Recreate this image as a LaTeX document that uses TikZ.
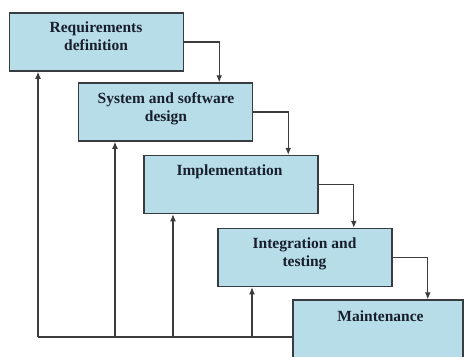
\documentclass[tikz,border=0pt]{standalone}
\usepackage{fontspec}
\setmainfont{Liberation Serif}
\usetikzlibrary{arrows.meta}
\pgfdeclarelayer{edgelayer}
\pgfdeclarelayer{nodelayer}
\pgfsetlayers{edgelayer,nodelayer,main}
\definecolor{phasefill}{RGB}{182,221,232}
\definecolor{phaseedge}{RGB}{55,60,65}
\definecolor{captionink}{RGB}{25,30,45}
\definecolor{wireink}{RGB}{60,60,60}
\tikzstyle{none}=[inner sep=0pt]
\tikzstyle{phase}=[rectangle,fill=phasefill,draw=phaseedge,line width=1.5pt,minimum width=174pt,minimum height=58pt,inner sep=0pt]
\tikzstyle{caption}=[inner sep=0pt,align=center,text=captionink,font=\fontsize{15.5}{18}\selectfont\bfseries]
\tikzstyle{cascade}=[-{Latex[length=7pt,width=6pt]},draw=wireink,line width=1.1pt]
\tikzstyle{feedback}=[draw=wireink,line width=1.1pt]

\begin{document}
\begin{tikzpicture}[x=1pt,y=-1pt]
	\useasboundingbox (0,0) rectangle (465,356);
	\clip (0,0) rectangle (465,356);
	\begin{pgfonlayer}{nodelayer}
		\node [style=phase] (0) at (96.5, 42) {};
		\node [style=phase] (1) at (165.5, 112) {};
		\node [style=phase] (2) at (231, 184.5) {};
		\node [style=phase] (3) at (305, 257.5) {};
		\node [style=phase, minimum width=170pt, minimum height=64pt] (4) at (378, 332) {};
		\node [style=caption] (5) at (96, 36) {Requirements\\definition};
		\node [style=caption] (6) at (166, 109) {System and software\\design};
		\node [style=caption] (7) at (229.5, 172) {Implementation};
		\node [style=caption] (8) at (304.5, 253.5) {Integration and\\testing};
		\node [style=caption] (9) at (380.5, 316) {Maintenance};
		% drop points of the cascade
		\coordinate (d0) at ([xshift=35pt]0.east);
		\coordinate (d1) at ([xshift=35pt]1.east);
		\coordinate (d2) at ([xshift=35pt]2.east);
		\coordinate (d3) at ([xshift=35pt]3.east);
		% feedback return line
		\coordinate (f0) at (38, 337);
		\coordinate (f1) at (115, 337);
		\coordinate (f2) at (173, 337);
		\coordinate (f3) at (252, 337);
	\end{pgfonlayer}
	\begin{pgfonlayer}{edgelayer}
		\draw [style=cascade] (0.east) -| (d0 |- 1.north);
		\draw [style=cascade] (1.east) -| (d1 |- 2.north);
		\draw [style=cascade] (2.east) -| (d2 |- 3.north);
		\draw [style=cascade] (3.east) -| (d3 |- 4.north);
		\draw [style=feedback] (f0) to (f0 -| 4.west);
		\draw [style=cascade] (f0) to (f0 |- 0.south);
		\draw [style=cascade] (f1) to (f1 |- 1.south);
		\draw [style=cascade] (f2) to (f2 |- 2.south);
		\draw [style=cascade] (f3) to (f3 |- 3.south);
	\end{pgfonlayer}
\end{tikzpicture}
\end{document}
